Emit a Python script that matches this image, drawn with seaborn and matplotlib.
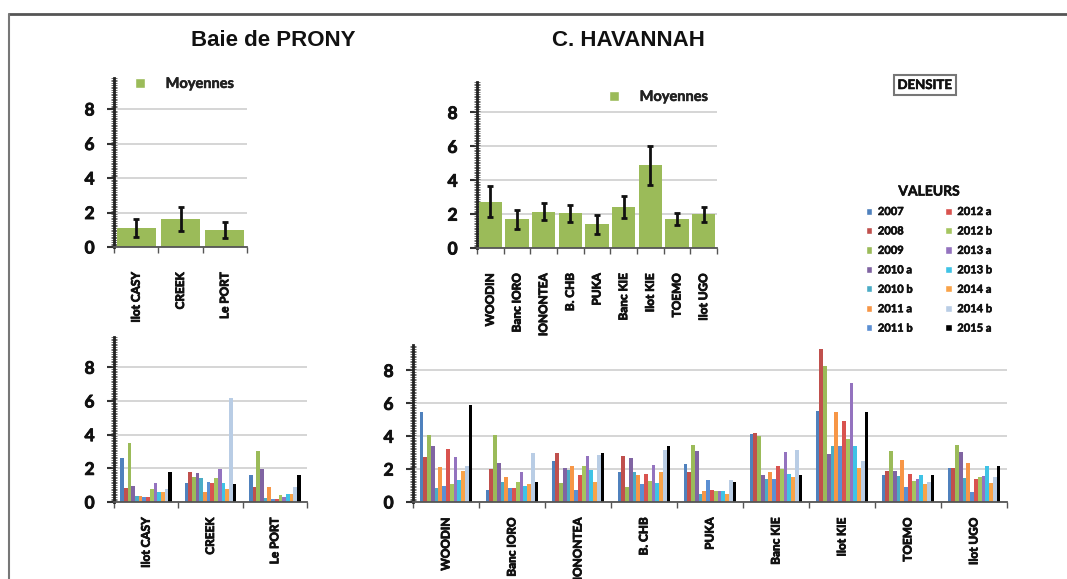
import numpy as np
import pandas as pd
import matplotlib
matplotlib.use("Agg")
import matplotlib.pyplot as plt
import matplotlib.patheffects as pe
import seaborn as sns
from matplotlib.patches import Patch
from matplotlib.lines import Line2D
from matplotlib.ticker import MultipleLocator

# ---------------- data ----------------
prony_sites = ["Ilot CASY", "CREEK", "Le PORT"]
havannah_sites = ["WOODIN", "Banc IORO", "IONONTEA", "B. CHB", "PUKA",
                  "Banc KIE", "Ilot KIE", "TOEMO", "Ilot UGO"]
campaigns = ["2007", "2008", "2009", "2010 a", "2010 b", "2011 a", "2011 b",
             "2012 a", "2012 b", "2013 a", "2013 b", "2014 a", "2014 b", "2015 a"]

prony_mean = [1.08, 1.60, 0.99]
prony_err = [0.52, 0.70, 0.44]
havannah_mean = [2.74, 1.69, 2.14, 2.04, 1.39, 2.44, 4.88, 1.71, 1.98]
havannah_err = [0.92, 0.56, 0.50, 0.49, 0.56, 0.64, 1.17, 0.38, 0.42]

# values per campaign (order = campaigns)
casy = [2.6, 0.83, 3.5, 0.93, 0.33, 0.33, 0.3, 0.3, 0.77, 1.1, 0.57, 0.57, 0.75, 1.76]
creek = [1.1, 1.76, 1.5, 1.7, 1.4, 0.6, 1.2, 1.1, 1.4, 1.95, 1.1, 0.75, 6.2, 1.07]
le_port = [1.6, 0.9, 3.05, 1.95, 0.25, 0.87, 0.2, 0.2, 0.4, 0.3, 0.5, 0.5, 0.9, 1.6]

woodin = [5.47, 2.73, 4.05, 3.38, 0.85, 2.13, 0.95, 3.22, 1.1, 2.73, 1.35, 1.9, 2.2, 5.9]
banc_ioro = [0.7, 2.02, 4.05, 2.37, 1.2, 1.55, 0.85, 0.85, 1.2, 1.8, 0.95, 1.1, 3.0, 1.2]
ionontea = [2.47, 2.98, 1.15, 2.07, 1.96, 2.22, 0.75, 1.66, 2.22, 2.81, 1.96, 1.2, 2.87, 3.0]
b_chb = [1.8, 2.77, 0.9, 2.7, 1.8, 1.66, 1.1, 1.72, 1.25, 2.27, 1.15, 1.8, 3.18, 3.38]
puka = [2.33, 1.82, 3.48, 3.08, 0.49, 0.65, 1.32, 0.7, 0.65, 0.65, 0.65, 0.49, 1.36, 1.19]
banc_kie = [4.13, 4.19, 4.03, 1.66, 1.4, 1.8, 1.4, 2.2, 2.0, 3.02, 1.72, 1.5, 3.18, 1.66]
ilot_kie = [5.55, 9.3, 8.28, 2.91, 3.42, 5.45, 3.42, 4.94, 3.83, 7.23, 3.42, 2.06, 2.51, 5.45]
toemo = [1.66, 1.9, 3.12, 1.86, 1.56, 2.53, 0.89, 1.7, 1.25, 1.4, 1.66, 1.09, 1.2, 1.66]
ilot_ugo = [2.06, 2.06, 3.48, 3.02, 1.46, 2.37, 0.59, 1.4, 1.5, 1.6, 2.17, 1.15, 1.52, 2.17]

campaign_colors = ["#4F81BD", "#C0504D", "#9BBB59", "#8064A2", "#4BACC6", "#F79646",
                   "#5B8FD3", "#D9534F", "#A5C55F", "#9473BF", "#3FC3E6", "#F9A349",
                   "#B9CDE5", "#000000"]
MEAN_GREEN = "#9BBB59"

# ---------------- figure ----------------
sns.set_theme(style="white")
plt.rcParams["font.family"] = ["Lato", "DejaVu Sans"]

W, H = 1067, 579
fig = plt.figure(figsize=(W / 100, H / 100), dpi=100)
HEAVY = [pe.withStroke(linewidth=0.6, foreground="#111111")]


def add_ax(l, t, r, b):
    return fig.add_axes([l / W, 1 - b / H, (r - l) / W, (b - t) / H])


ax1 = add_ax(114, 78, 247, 247)
ax2 = add_ax(477, 82, 717, 248)
ax3 = add_ax(114, 337, 307, 502)
ax4 = add_ax(413, 345, 1007, 502)


def long_df(sites, series):
    rows = []
    for s, vals in zip(sites, series):
        for c, v in zip(campaigns, vals):
            rows.append((s, c, v))
    return pd.DataFrame(rows, columns=["site", "campaign", "value"])


# mean panels
for ax, sites, means, errs in [(ax1, prony_sites, prony_mean, prony_err),
                               (ax2, havannah_sites, havannah_mean, havannah_err)]:
    d = pd.DataFrame({"site": sites, "mean": means})
    sns.barplot(data=d, x="site", y="mean", color=MEAN_GREEN, saturation=1,
                width=0.88, errorbar=None, linewidth=0, ax=ax)
    ax.errorbar(np.arange(len(sites)), means, yerr=errs, fmt="none",
                ecolor="#111111", elinewidth=2, capsize=2.5, capthick=2, zorder=5)

# grouped panels
df_p = long_df(prony_sites, [casy, creek, le_port])
df_h = long_df(havannah_sites, [woodin, banc_ioro, ionontea, b_chb, puka,
                                banc_kie, ilot_kie, toemo, ilot_ugo])
for ax, d in [(ax3, df_p), (ax4, df_h)]:
    sns.barplot(data=d, x="site", y="value", hue="campaign", hue_order=campaigns,
                palette=campaign_colors, saturation=1, width=0.8, gap=0,
                errorbar=None, linewidth=0, legend=False, ax=ax)


def style(ax, n, ymax, xpad):
    ax.set_xlim(-0.5, n - 0.5)
    ax.set_ylim(0, ymax)
    ax.set_yticks([0, 2, 4, 6, 8])
    ax.yaxis.set_minor_locator(MultipleLocator(0.1))
    ax.set_xticks(np.arange(-0.5, n, 1), minor=True)
    ax.grid(axis="y", which="major", color="#d2d2d2", lw=1.3)
    ax.set_axisbelow(True)
    for s in ["top", "right"]:
        ax.spines[s].set_visible(False)
    ax.spines["left"].set_color("#222222")
    ax.spines["left"].set_linewidth(2)
    ax.spines["bottom"].set_color("#555555")
    ax.spines["bottom"].set_linewidth(1.3)
    ax.tick_params(axis="y", which="major", left=True, length=5, width=1.5,
                   color="#333333", labelsize=12.5, pad=9)
    ax.tick_params(axis="y", which="minor", left=True, length=4, width=0.6,
                   direction="inout", color="#555555")
    ax.tick_params(axis="x", which="major", bottom=False, labelsize=8.5,
                   labelrotation=90, pad=xpad)
    ax.tick_params(axis="x", which="minor", bottom=True, length=4, width=1,
                   color="#555555")
    ax.set_xlabel("")
    ax.set_ylabel("")
    for lbl in ax.get_yticklabels() + ax.get_xticklabels():
        lbl.set_fontweight("bold")
        lbl.set_color("#111111")
        lbl.set_path_effects(HEAVY)


style(ax1, 3, 9.8, 12)
style(ax2, 9, 9.8, 12)
style(ax3, 3, 9.8, 5)
style(ax4, 9, 9.55, 5)

# "Moyennes" legends
mean_handle = [Patch(facecolor=MEAN_GREEN)]
for ax, x, y in [(ax1, (135 - 114) / 133, 0.965), (ax2, (609 - 477) / 240, 0.91)]:
    leg = ax.legend(mean_handle, ["Moyennes"], loc="center left", bbox_to_anchor=(x, y),
                    frameon=False, borderpad=0, borderaxespad=0, handlelength=0.7,
                    handleheight=0.7, handletextpad=1.4,
                    prop={"weight": "bold", "size": 10.5})
    for t in leg.get_texts():
        t.set_color("#222222")
        t.set_path_effects([pe.withStroke(linewidth=0.4, foreground="#222222")])

# titles
fig.text(273 / W, 1 - 40 / H, "Baie de PRONY", ha="center", va="center",
         fontsize=16, fontweight="bold", family=["Liberation Sans", "DejaVu Sans"],
         color="#111111")
fig.text(628 / W, 1 - 41 / H, "C. HAVANNAH", ha="center", va="center",
         fontsize=16, fontweight="bold", family=["Liberation Sans", "DejaVu Sans"],
         color="#111111")
fig.text(925 / W, 1 - 85 / H, "DENSITE", ha="center", va="center", fontsize=9.5,
         fontweight="bold", color="#111111",
         path_effects=[pe.withStroke(linewidth=0.4, foreground="#111111")],
         bbox=dict(boxstyle="square,pad=0.3", fc="white", ec="#777777", lw=1.5))

# campaign legend
handles = [Patch(facecolor=c) for c in campaign_colors]
leg = fig.legend(handles, campaigns, loc="upper center",
                 bbox_to_anchor=(929 / W, 1 - 180 / H),
                 ncol=2, frameon=False, title="VALEURS",
                 title_fontproperties={"weight": "bold", "size": 10},
                 prop={"weight": "bold", "size": 8}, handlelength=0.6, handleheight=0.6,
                 handletextpad=0.5, labelspacing=0.76, columnspacing=2.9, borderpad=0)
for t in leg.get_texts() + [leg.get_title()]:
    t.set_color("#111111")
    t.set_path_effects([pe.withStroke(linewidth=0.4, foreground="#111111")])

# outer frame
fig.add_artist(Line2D([9 / W, 1], [1 - 14 / H, 1 - 14 / H], transform=fig.transFigure,
                      color="#555555", lw=2))
fig.add_artist(Line2D([9 / W, 9 / W], [0, 1 - 14 / H], transform=fig.transFigure,
                      color="#777777", lw=1.5))

fig.savefig("out.png", dpi=100)
